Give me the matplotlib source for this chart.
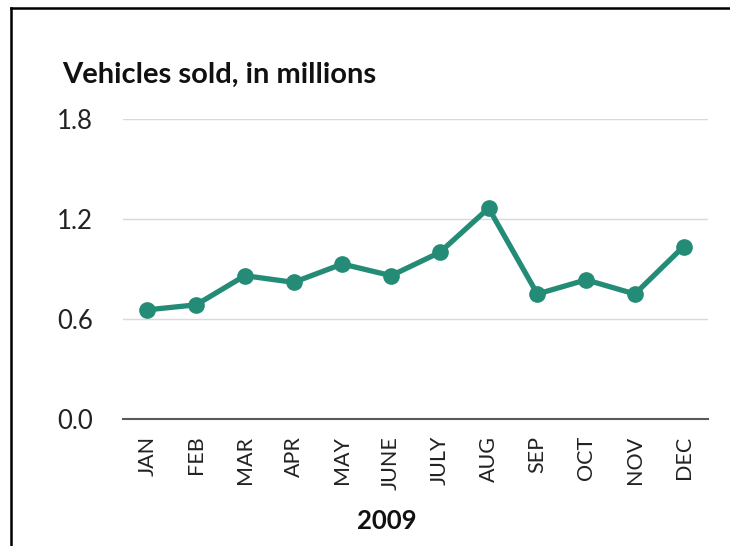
import matplotlib
matplotlib.use("Agg")
import matplotlib.pyplot as plt
from matplotlib.lines import Line2D

months = ["JAN", "FEB", "MAR", "APR", "MAY", "JUNE", "JULY", "AUG", "SEP", "OCT", "NOV", "DEC"]
sales = [0.655, 0.685, 0.86, 0.82, 0.93, 0.86, 1.00, 1.265, 0.75, 0.835, 0.75, 1.035]
yticks = [0.0, 0.6, 1.2, 1.8]
ytick_labels = ["0.0", "0.6", "1.2", "1.8"]

plt.rcParams['font.family'] = ['Lato', 'DejaVu Sans']

W, H = 730, 546
fig = plt.figure(figsize=(W / 100, H / 100), dpi=100)
ax = fig.add_axes([123 / W, 1 - 419 / H, (708 - 123) / W, (419 - 119) / H])

color = "#238B76"
x = list(range(len(months)))
ax.plot(x, sales, color=color, lw=3.8, marker="o", markersize=11, solid_capstyle="round", zorder=3)

ax.set_xlim(-0.5, len(months) - 0.5)
ax.set_ylim(0, 1.8)
ax.set_yticks(yticks)
ax.set_yticklabels(ytick_labels, fontsize=18.5, color="#222222")
ax.set_xticks(x)
ax.set_xticklabels(months, rotation=90, fontsize=15.5, color="#222222")
ax.tick_params(axis="both", length=0)
ax.tick_params(axis="y", pad=21.5)
ax.tick_params(axis="x", pad=12)

ax.grid(axis="y", color="#D9D9D9", lw=1)
ax.set_axisbelow(True)
for s in ["top", "right", "left"]:
    ax.spines[s].set_visible(False)
ax.spines["bottom"].set_color("#595959")
ax.spines["bottom"].set_linewidth(1.5)
ax.spines["bottom"].set_zorder(2)

fig.text(387 / W, 1 - 521 / H, "2009", fontsize=18.5, fontweight="bold",
         ha="center", va="center", color="#111111")

fig.text(62 / W, 1 - 83 / H, "Vehicles sold, in millions", fontsize=21, fontweight="bold",
         ha="left", va="baseline", color="#111111")

# frame lines
fig.add_artist(Line2D([10.5 / W, 10.5 / W], [0, 1 - 7.5 / H], transform=fig.transFigure, color="black", lw=1.8))
fig.add_artist(Line2D([10.5 / W, 1], [1 - 7.5 / H, 1 - 7.5 / H], transform=fig.transFigure, color="black", lw=1.8))

fig.savefig("out.png", dpi=100)
